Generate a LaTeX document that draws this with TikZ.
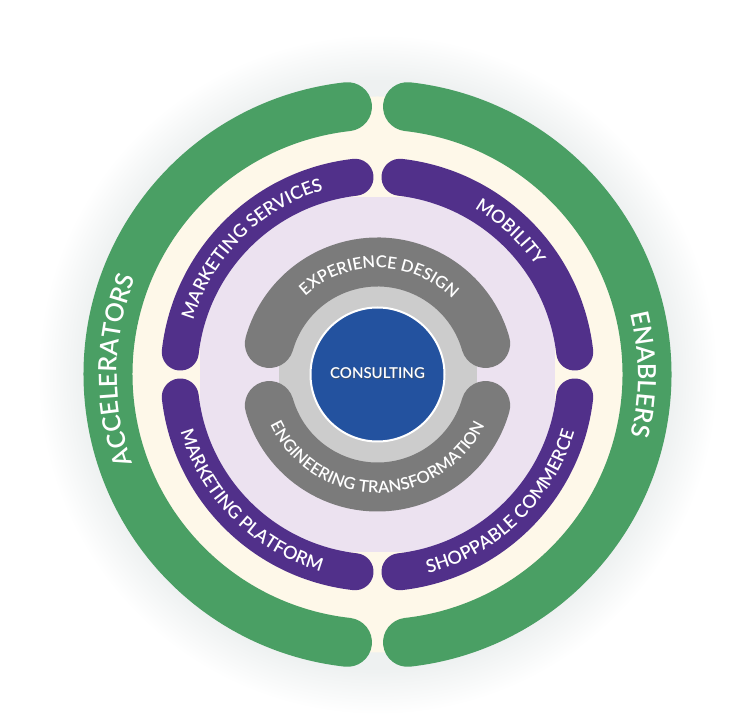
\documentclass[tikz,border=0pt]{standalone}
\usepackage{fontspec}
\setmainfont{Lato}
\newfontfamily\semib{Lato Semibold}
\usetikzlibrary{decorations.text}
\definecolor{ringgreen}{HTML}{4A9F64}
\definecolor{ringpurple}{HTML}{51308A}
\definecolor{cream}{HTML}{FEF8E9}
\definecolor{lavender}{HTML}{ECE2F0}
\definecolor{darkgrey}{HTML}{7B7B7B}
\definecolor{lightgrey}{HTML}{CCCCCC}
\definecolor{coreblue}{HTML}{23529F}
\definecolor{halocol}{HTML}{EEF1F1}
\pgfdeclareradialshading{halo}{\pgfpoint{0bp}{0bp}}{color(0bp)=(halocol); color(21.6bp)=(halocol); color(25bp)=(white); color(50bp)=(white)}
\newcommand\greenfont{\semib\fontsize{25}{25}\selectfont}
\newcommand\purplefont{\semib\fontsize{18}{18}\selectfont}
\newcommand\greyfont{\semib\fontsize{16.5}{16.5}\selectfont}
\begin{document}
\begin{tikzpicture}[x=1pt,y=1pt,
  band/.style={line width=#1, line cap=round},
  arctext/.style={decorate, decoration={text along path, text align=center, text color=white, text={#1}}}]
\fill[white] (0,0) rectangle (750,715);
\useasboundingbox (0,0) rectangle (750,715);
\begin{scope}[shift={(377.5,340.5)}]
% halo and background discs
\shade[shading=halo] (0,0) circle (340pt);
\fill[cream] (0,0) circle (278pt);
% green ring
\draw[ringgreen, band=49pt] (96.4:269.5pt) arc[start angle=96.4, end angle=263.6, radius=269.5pt];
\draw[ringgreen, band=49pt] (83.6:269.5pt) arc[start angle=83.6, end angle=-83.6, radius=269.5pt];
% lavender field
\begin{scope}
  \clip (0,0) circle (205pt);
  \fill[lavender] (-177.5,-177.5) rectangle (177.5,177.5);
\end{scope}
% purple ring
\draw[ringpurple, band=37pt] (96.5:198.5pt) arc[start angle=96.5, end angle=173.5, radius=198.5pt];
\draw[ringpurple, band=37pt] (83.5:198.5pt) arc[start angle=83.5, end angle=6.5, radius=198.5pt];
\draw[ringpurple, band=37pt] (186.5:198.5pt) arc[start angle=186.5, end angle=263.5, radius=198.5pt];
\draw[ringpurple, band=37pt] (276.5:198.5pt) arc[start angle=276.5, end angle=353.5, radius=198.5pt];
% light grey field
\begin{scope}
  \clip (0,0) circle (120pt);
  \fill[lightgrey] (-99,-99) rectangle (99,99);
\end{scope}
% dark grey ring
\draw[darkgrey, band=49pt] (16:112.5pt) arc[start angle=16, end angle=164, radius=112.5pt];
\draw[darkgrey, band=49pt] (196:112.5pt) arc[start angle=196, end angle=344, radius=112.5pt];
% core
\node[circle, fill=coreblue, draw=white, line width=2pt, minimum size=134pt, inner sep=0pt] (core) at (0,0) {};
\node[text=black!70, opacity=0.6, font=\semib\fontsize{15}{15}\selectfont] (coreshadow) at (0.8,0.7) {CONSULTING};
\node[text=white, font=\semib\fontsize{15}{15}\selectfont] (consult) at (0,1.5) {CONSULTING};
% arc texts
\path[arctext={|\greenfont|ACCELERATORS}] (239:260.5pt) arc[start angle=239, end angle=119, radius=260.5pt];
\path[arctext={|\greenfont|ENABLERS}] (60:260.5pt) arc[start angle=60, end angle=-60, radius=260.5pt];
\path[arctext={|\purplefont|MARKETING SERVICES}] (180:192pt) arc[start angle=180, end angle=90, radius=192pt];
\path[arctext={|\purplefont|MOBILITY}] (92:192pt) arc[start angle=92, end angle=2, radius=192pt];
\path[arctext={|\purplefont|MARKETING PLATFORM}] (180:205pt) arc[start angle=180, end angle=270, radius=205pt];
\path[arctext={|\purplefont|SHOPPABLE COMMERCE}] (269:205pt) arc[start angle=269, end angle=359, radius=205pt];
\path[arctext={|\greyfont|EXPERIENCE DESIGN}] (170:106.5pt) arc[start angle=170, end angle=8, radius=106.5pt];
\path[arctext={|\greyfont|ENGINEERING TRANSFORMATION}] (190:118.5pt) arc[start angle=190, end angle=350, radius=118.5pt];
\end{scope}
\end{tikzpicture}
\end{document}
